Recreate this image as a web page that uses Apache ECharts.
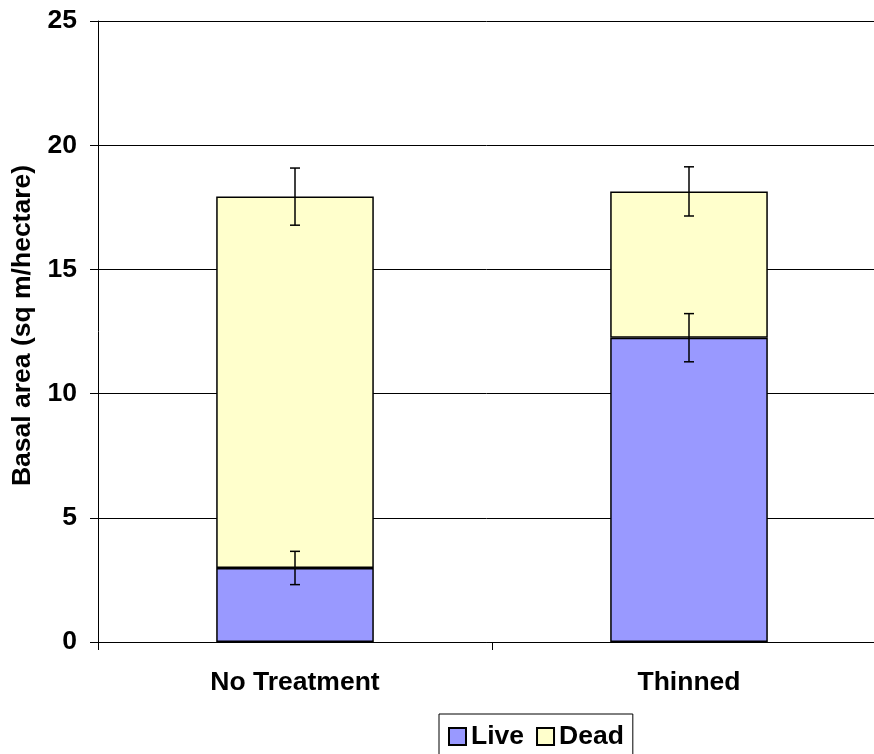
<!DOCTYPE html>
<html>
<head>
<meta charset="utf-8">
<script src="https://cdn.jsdelivr.net/npm/echarts@6/dist/echarts.min.js"></script>
<style>
html,body{margin:0;padding:0;background:#fff;overflow:hidden;}
#chart{width:874px;height:754px;}
</style>
</head>
<body>
<div id="chart"></div>
<script>
const categories = ['No Treatment', 'Thinned'];
const liveValues = [2.98, 12.25];
const deadValues = [14.95, 5.89];
const liveErrors = [0.67, 0.97];
const deadErrors = [1.15, 0.99];
const yTicks = [0, 5, 10, 15, 20, 25];

const FONT = '"Liberation Sans", Arial, sans-serif';
const FS = 26.5;

const errorData = [];
for (let i = 0; i < categories.length; i++) {
  errorData.push([i, liveValues[i], liveErrors[i]]);
  errorData.push([i, liveValues[i] + deadValues[i], deadErrors[i]]);
}

const chart = echarts.init(document.getElementById('chart'), null, {renderer: 'canvas'});
chart.setOption({
  animation: false,
  backgroundColor: '#ffffff',
  textStyle: {fontFamily: FONT},
  grid: {left: 98, width: 788, top: 21, height: 621, containLabel: false, outerBoundsMode: 'none'},
  legend: {
    data: ['Live', 'Dead'],
    left: 439,
    top: 714,
    padding: [9, 9, 7, 9],
    itemGap: 12,
    itemWidth: 17,
    itemHeight: 17,
    icon: 'rect',
    borderColor: '#000',
    borderWidth: 1,
    textStyle: {fontFamily: FONT, fontSize: FS, fontWeight: 'bold', color: '#000'}
  },
  xAxis: {
    type: 'category',
    data: categories,
    axisLine: {lineStyle: {color: '#000', width: 1}},
    axisTick: {show: true, length: 8, alignWithLabel: false, lineStyle: {color: '#000'}},
    axisLabel: {fontFamily: FONT, fontSize: FS, fontWeight: 'bold', color: '#000', margin: 27}
  },
  yAxis: {
    type: 'value',
    min: yTicks[0],
    max: yTicks[yTicks.length - 1],
    interval: 5,
    name: 'Basal area (sq m/hectare)',
    nameLocation: 'middle',
    nameGap: 58,
    nameTextStyle: {fontFamily: FONT, fontSize: FS, fontWeight: 'bold', color: '#000', padding: [0, 0, 0, 12]},
    axisLine: {show: true, lineStyle: {color: '#000', width: 1}},
    axisTick: {show: true, length: 8, lineStyle: {color: '#000'}},
    axisLabel: {fontFamily: FONT, fontSize: FS, fontWeight: 'bold', color: '#000', margin: 21},
    splitLine: {show: true, lineStyle: {color: '#000', width: 1}}
  },
  series: [
    {
      name: 'Live', type: 'bar', stack: 'total', barWidth: '40%',
      data: liveValues,
      itemStyle: {color: '#9999FF', borderColor: '#000', borderWidth: 1.5}
    },
    {
      name: 'Dead', type: 'bar', stack: 'total', barWidth: '40%',
      data: deadValues,
      itemStyle: {color: '#FFFFCC', borderColor: '#000', borderWidth: 1.5}
    },
    {
      name: 'err', type: 'custom', z: 10,
      data: errorData,
      renderItem: function (params, api) {
        const x = api.value(0);
        const v = api.value(1);
        const e = api.value(2);
        const hi = api.coord([x, v + e]);
        const lo = api.coord([x, v - e]);
        const hw = 5;
        const style = {stroke: '#000', lineWidth: 1.5, fill: null};
        return {
          type: 'group',
          children: [
            {type: 'line', shape: {x1: hi[0], y1: hi[1], x2: lo[0], y2: lo[1]}, style: style},
            {type: 'line', shape: {x1: hi[0] - hw, y1: hi[1], x2: hi[0] + hw, y2: hi[1]}, style: style},
            {type: 'line', shape: {x1: lo[0] - hw, y1: lo[1], x2: lo[0] + hw, y2: lo[1]}, style: style}
          ]
        };
      }
    }
  ]
});
</script>
</body>
</html>
